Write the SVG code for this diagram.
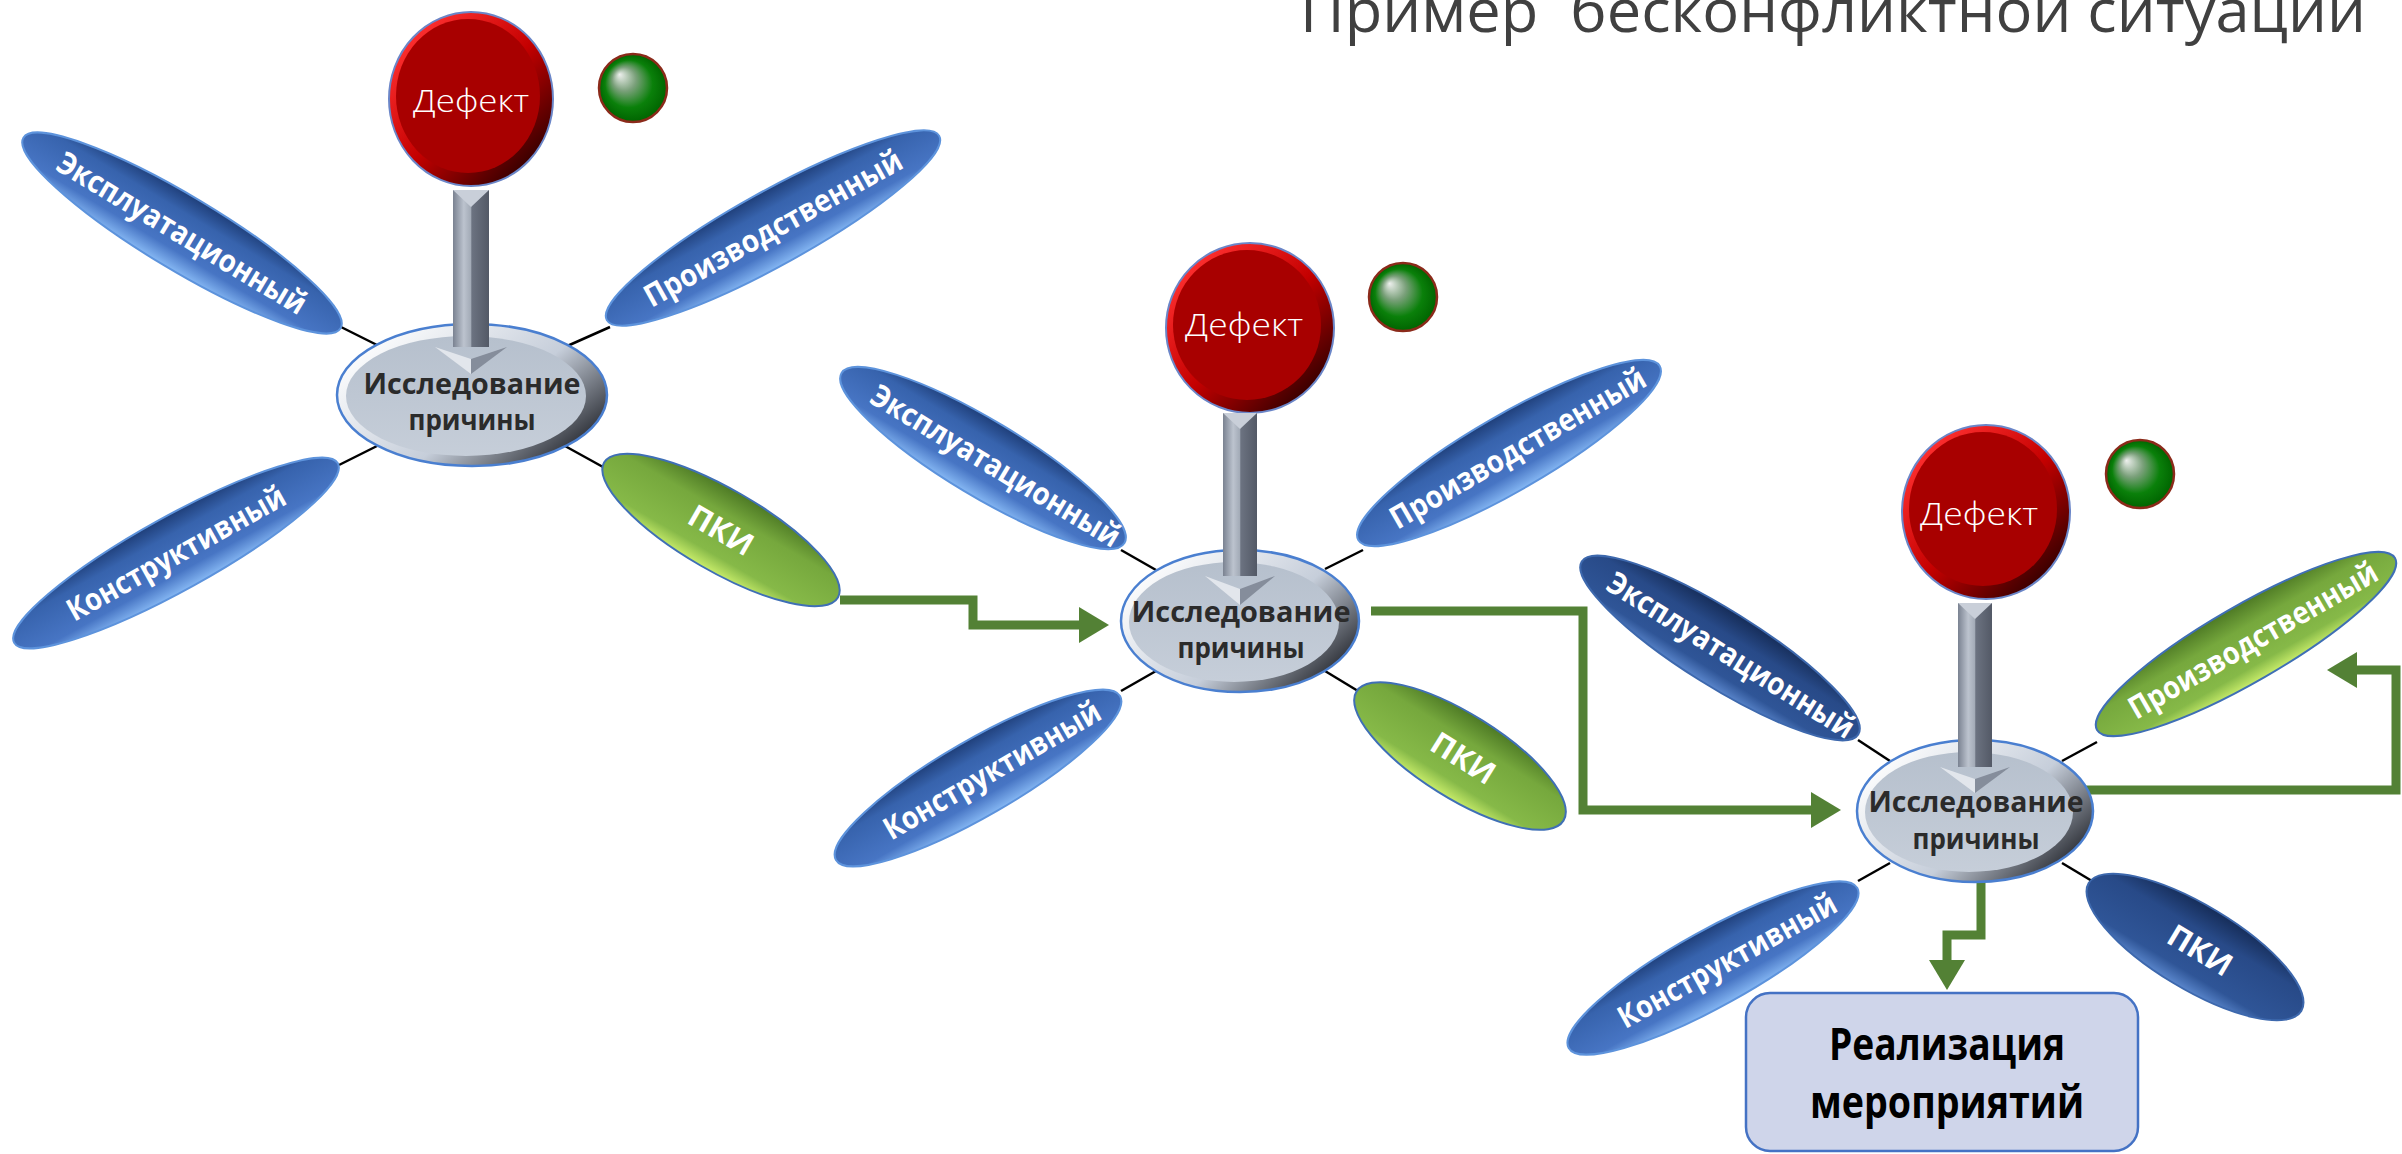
<svg xmlns="http://www.w3.org/2000/svg" width="2402" height="1154" viewBox="0 0 2402 1154">
<defs>
<style>
.sat{font-family:"Open Sans","DejaVu Sans",sans-serif;font-weight:700;font-size:31px;fill:#ffffff;text-anchor:middle}
.ctr{font-family:"Open Sans","DejaVu Sans",sans-serif;font-weight:700;font-size:28px;fill:#2b2b2b;text-anchor:middle}
.def{font-family:"Open Sans","DejaVu Sans",sans-serif;font-weight:300;font-size:32px;fill:#ffffff;text-anchor:middle}
.title{font-family:"Open Sans","DejaVu Sans",sans-serif;font-size:60px;fill:#404040}
.box{font-family:"Open Sans","Noto Sans",sans-serif;font-weight:700;font-size:44px;fill:#000000;text-anchor:middle}
.blue{fill:url(#gBlue);stroke:#5d93dc;stroke-width:2}
.dblue{fill:url(#gDBlue);stroke:#3d68ad;stroke-width:2}
.green{fill:url(#gGreen);stroke:#3f6fb5;stroke-width:2}
.thin{stroke:#000;stroke-width:2.5;fill:none}
.route{stroke:#538135;stroke-width:9;fill:none;stroke-linejoin:miter;stroke-linecap:butt;marker-end:url(#ah)}
.redo{fill:url(#gRedRim);stroke:#6b86c8;stroke-width:2}
.redi{fill:#a80000}
.dot{fill:url(#gDot);stroke:#8b2a1a;stroke-width:2.5}
.co{fill:url(#gCtrRim);stroke:#4a7fd0;stroke-width:2.5}
.ci{fill:url(#gCtr)}
.shaft{fill:url(#gShaft)}
.notch{fill:#c9cfd9}
.hl{fill:#e2e6ec}
.hr{fill:#858d9b}
</style>
<linearGradient id="gBlue" x1="0" y1="0" x2="0" y2="1">
<stop offset="0" stop-color="#1f3f7a"/>
<stop offset="0.25" stop-color="#3763ad"/>
<stop offset="0.75" stop-color="#4775c4"/>
<stop offset="1" stop-color="#86b8f4"/>
</linearGradient>
<linearGradient id="gDBlue" x1="0" y1="0" x2="0" y2="1">
<stop offset="0" stop-color="#162d59"/>
<stop offset="0.3" stop-color="#284a88"/>
<stop offset="0.8" stop-color="#2f5597"/>
<stop offset="1" stop-color="#5a86cc"/>
</linearGradient>
<linearGradient id="gGreen" x1="0" y1="0" x2="0" y2="1">
<stop offset="0" stop-color="#4e7a25"/>
<stop offset="0.3" stop-color="#76a83d"/>
<stop offset="0.8" stop-color="#86b948"/>
<stop offset="1" stop-color="#c8ec6a"/>
</linearGradient>
<linearGradient id="gRedRim" x1="0.15" y1="0.1" x2="0.9" y2="0.9">
<stop offset="0" stop-color="#ff3030"/>
<stop offset="0.5" stop-color="#c40000"/>
<stop offset="1" stop-color="#2a0000"/>
</linearGradient>
<radialGradient id="gDot" cx="0.5" cy="0.5" r="0.5" fx="0.3" fy="0.3">
<stop offset="0" stop-color="#eef0ee"/>
<stop offset="0.35" stop-color="#7aa07a"/>
<stop offset="0.7" stop-color="#0a800a"/>
<stop offset="1" stop-color="#006400"/>
</radialGradient>
<linearGradient id="gCtrRim" x1="0.1" y1="0.1" x2="1" y2="0.7">
<stop offset="0" stop-color="#ffffff"/>
<stop offset="0.6" stop-color="#c6ceda"/>
<stop offset="1" stop-color="#2e3138"/>
</linearGradient>
<linearGradient id="gCtr" x1="0" y1="0" x2="0" y2="1">
<stop offset="0" stop-color="#b6c0cd"/>
<stop offset="1" stop-color="#c6ced9"/>
</linearGradient>
<linearGradient id="gShaft" x1="0" y1="0" x2="1" y2="0">
<stop offset="0" stop-color="#7a8291"/>
<stop offset="0.3" stop-color="#bcc3ce"/>
<stop offset="0.5" stop-color="#a2aab6"/>
<stop offset="0.52" stop-color="#6c7381"/>
<stop offset="1" stop-color="#535966"/>
</linearGradient>
<marker id="ah" markerUnits="userSpaceOnUse" markerWidth="34" markerHeight="36" refX="1" refY="18" orient="auto" viewBox="0 0 34 36">
<path d="M0,0 L30,18 L0,36 z" fill="#538135"/>
</marker>
</defs>
<rect width="2402" height="1154" fill="#ffffff"/>

<text id="title" class="title" x="1300" y="32" textLength="1066" lengthAdjust="spacingAndGlyphs" xml:space="preserve">Пример  бесконфликтной ситуации</text>

<g id="connectors">
<line class="thin" x1="339" y1="326" x2="377" y2="345"/>
<line class="thin" x1="565" y1="347" x2="610" y2="327"/>
<line class="thin" x1="339" y1="465" x2="377" y2="446"/>
<line class="thin" x1="565" y1="446" x2="603" y2="467"/>
<line class="thin" x1="1121" y1="550" x2="1156" y2="570"/>
<line class="thin" x1="1325" y1="569" x2="1363" y2="550"/>
<line class="thin" x1="1121" y1="691" x2="1156" y2="671"/>
<line class="thin" x1="1325" y1="671" x2="1358" y2="691"/>
<line class="thin" x1="1858" y1="740" x2="1890" y2="761"/>
<line class="thin" x1="2062" y1="761" x2="2097" y2="742"/>
<line class="thin" x1="1858" y1="881" x2="1890" y2="863"/>
<line class="thin" x1="2062" y1="863" x2="2092" y2="881"/>
<polyline class="route" points="840,600 973,600 973,625 1080,625"/>
<polyline class="route" points="1371,611 1583,611 1583,810 1812,810"/>
<polyline class="route" points="2043,790 2396,790 2396,670 2356,670"/>
<polyline class="route" points="1981,880 1981,935 1947,935 1947,961"/>
</g>

<!-- Group 1 -->
<g id="g1-expl" transform="translate(182,233) rotate(31)">
<ellipse class="blue" rx="185" ry="37"/>
<text class="sat" x="0" y="11" textLength="285" lengthAdjust="spacingAndGlyphs">Эксплуатационный</text>
</g>
<g id="g1-proizv" transform="translate(773,228) rotate(-29)">
<ellipse class="blue" rx="190" ry="37"/>
<text class="sat" x="0" y="11" textLength="290" lengthAdjust="spacingAndGlyphs">Производственный</text>
</g>
<g id="g1-konstr" transform="translate(176,553) rotate(-29)">
<ellipse class="blue" rx="185" ry="37"/>
<text class="sat" x="0" y="11" textLength="245" lengthAdjust="spacingAndGlyphs">Конструктивный</text>
</g>
<g id="g1-pki" transform="translate(721,530) rotate(30)">
<ellipse class="green" rx="135" ry="41"/>
<text class="sat" x="0" y="11">ПКИ</text>
</g>
<g id="g1-defect">
<ellipse class="redo" cx="471" cy="99" rx="82" ry="87"/>
<ellipse class="redi" cx="468" cy="96" rx="72" ry="77"/>
<text class="def" x="471" y="112" textLength="116" lengthAdjust="spacingAndGlyphs">Дефект</text>
</g>
<g id="g1-dot"><circle class="dot" cx="633" cy="88" r="34"/></g>
<g id="g1-center">
<ellipse class="co" cx="472" cy="395" rx="135" ry="71"/>
<ellipse class="ci" cx="466" cy="396" rx="120" ry="60"/>
<text class="ctr" x="472" y="394" textLength="217" lengthAdjust="spacingAndGlyphs">Исследование</text>
<text class="ctr" x="472" y="430" textLength="127" lengthAdjust="spacingAndGlyphs">причины</text>
</g>
<g id="g1-arrow">
<rect class="shaft" x="453" y="190" width="36" height="157"/>
<polygon class="notch" points="453,190 489,190 471,207"/>
<polygon class="hl" points="435,347 471,359 471,374"/>
<polygon class="hr" points="507,347 471,359 471,374"/>
</g>

<!-- Group 2 -->
<g id="g2-expl" transform="translate(983,458) rotate(31)">
<ellipse class="blue" rx="165" ry="38"/>
<text class="sat" x="15" y="11" textLength="285" lengthAdjust="spacingAndGlyphs">Эксплуатационный</text>
</g>
<g id="g2-proizv" transform="translate(1509,453) rotate(-30)">
<ellipse class="blue" rx="174" ry="38"/>
<text class="sat" x="10" y="11" textLength="290" lengthAdjust="spacingAndGlyphs">Производственный</text>
</g>
<g id="g2-konstr" transform="translate(978,778) rotate(-30)">
<ellipse class="blue" rx="164" ry="38"/>
<text class="sat" x="16" y="11" textLength="245" lengthAdjust="spacingAndGlyphs">Конструктивный</text>
</g>
<g id="g2-pki" transform="translate(1460,756) rotate(32)">
<ellipse class="green" rx="122" ry="42"/>
<text class="sat" x="4" y="11">ПКИ</text>
</g>
<g id="g2-defect">
<ellipse class="redo" cx="1250" cy="328" rx="84" ry="85"/>
<ellipse class="redi" cx="1247" cy="325" rx="74" ry="75"/>
<text class="def" x="1244" y="336" textLength="118" lengthAdjust="spacingAndGlyphs">Дефект</text>
</g>
<g id="g2-dot"><circle class="dot" cx="1403" cy="297" r="34"/></g>
<g id="g2-center">
<ellipse class="co" cx="1240" cy="621" rx="119" ry="71"/>
<ellipse class="ci" cx="1234" cy="622" rx="105" ry="60"/>
<text class="ctr" x="1241" y="622" textLength="219" lengthAdjust="spacingAndGlyphs">Исследование</text>
<text class="ctr" x="1241" y="658" textLength="127" lengthAdjust="spacingAndGlyphs">причины</text>
</g>
<g id="g2-arrow">
<rect class="shaft" x="1223" y="413" width="34" height="163"/>
<polygon class="notch" points="1223,413 1257,413 1240,429"/>
<polygon class="hl" points="1205,576 1240,589 1240,605"/>
<polygon class="hr" points="1275,576 1240,589 1240,605"/>
</g>

<!-- Group 3 -->
<g id="g3-expl" transform="translate(1720,648) rotate(32)">
<ellipse class="dblue" rx="163" ry="38"/>
<text class="sat" x="13" y="11" textLength="285" lengthAdjust="spacingAndGlyphs">Эксплуатационный</text>
</g>
<g id="g3-proizv" transform="translate(2246,644) rotate(-30)">
<ellipse class="green" rx="172" ry="38"/>
<text class="sat" x="8" y="11" textLength="282" lengthAdjust="spacingAndGlyphs">Производственный</text>
</g>
<g id="g3-konstr" transform="translate(1713,968) rotate(-29)">
<ellipse class="blue" rx="165" ry="38"/>
<text class="sat" x="16" y="11" textLength="245" lengthAdjust="spacingAndGlyphs">Конструктивный</text>
</g>
<g id="g3-pki" transform="translate(2195,947) rotate(31)">
<ellipse class="dblue" rx="124" ry="42"/>
<text class="sat" x="6" y="11">ПКИ</text>
</g>
<g id="g3-defect">
<ellipse class="redo" cx="1986" cy="512" rx="84" ry="87"/>
<ellipse class="redi" cx="1983" cy="509" rx="74" ry="77"/>
<text class="def" x="1979" y="525" textLength="118" lengthAdjust="spacingAndGlyphs">Дефект</text>
</g>
<g id="g3-dot"><circle class="dot" cx="2140" cy="474" r="34"/></g>
<g id="g3-center">
<ellipse class="co" cx="1975" cy="811" rx="118" ry="71"/>
<ellipse class="ci" cx="1969" cy="812" rx="104" ry="60"/>
<text class="ctr" x="1976" y="812" textLength="215" lengthAdjust="spacingAndGlyphs">Исследование</text>
<text class="ctr" x="1976" y="849" textLength="127" lengthAdjust="spacingAndGlyphs">причины</text>
</g>
<g id="g3-arrow">
<rect class="shaft" x="1958" y="603" width="34" height="164"/>
<polygon class="notch" points="1958,603 1992,603 1975,619"/>
<polygon class="hl" points="1940,767 1975,779 1975,793"/>
<polygon class="hr" points="2010,767 1975,779 1975,793"/>
</g>

<g id="box">
<rect x="1746" y="993" width="392" height="158" rx="24" ry="24" fill="#cfd5ea" stroke="#4472c4" stroke-width="2.5"/>
<text class="box" x="1947" y="1060" textLength="236" lengthAdjust="spacingAndGlyphs">Реализация</text>
<text class="box" x="1947" y="1118" textLength="274" lengthAdjust="spacingAndGlyphs">мероприятий</text>
</g>
</svg>
